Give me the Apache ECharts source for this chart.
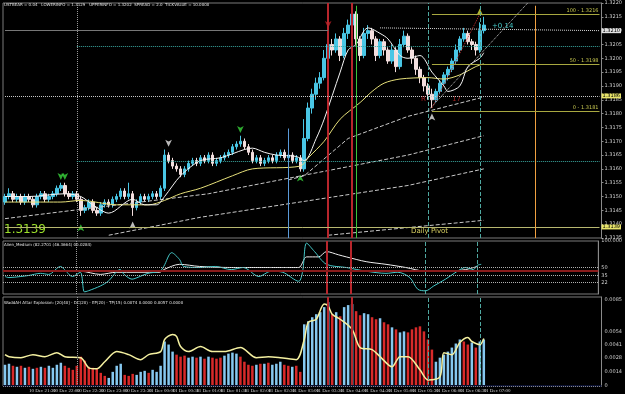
<!DOCTYPE html>
<html>
<head>
<meta charset="utf-8">
<script src="https://cdn.jsdelivr.net/npm/echarts@6/dist/echarts.min.js"></script>
<style>
  html, body { margin: 0; padding: 0; background: #000; }
  #chart { width: 625px; height: 394px; }
</style>
</head>
<body>
<div id="chart"></div>
<script>
// slots on the time axis (bars + empty space on the right)
var slotCount = 150
var timeLabels = ['10 Dec 2009', '10 Dec 21:30', '10 Dec 22:00', '10 Dec 22:30', '10 Dec 23:00', '10 Dec 23:30',
  '11 Dec 00:00', '11 Dec 00:30', '11 Dec 01:00', '11 Dec 01:30', '11 Dec 02:00', '11 Dec 02:30',
  '11 Dec 03:00', '11 Dec 03:30', '11 Dec 04:00', '11 Dec 04:30', '11 Dec 05:00', '11 Dec 05:30',
  '11 Dec 06:00', '11 Dec 06:30', '11 Dec 07:00']

// [open, close, low, high]
var candles = [
  [1.3148, 1.3150, 1.3147, 1.3151], [1.3150, 1.3151, 1.3149, 1.3153], [1.3151, 1.3149, 1.3148, 1.3152], [1.3149, 1.3150, 1.3148, 1.3151],
  [1.3150, 1.3148, 1.3147, 1.3151], [1.3148, 1.3150, 1.3147, 1.3151], [1.3150, 1.3149, 1.3148, 1.3151], [1.3149, 1.3147, 1.3146, 1.3150],
  [1.3147, 1.3150, 1.3146, 1.3151], [1.3150, 1.3151, 1.3149, 1.3152], [1.3151, 1.3149, 1.3148, 1.3152], [1.3149, 1.3150, 1.3148, 1.3151],
  [1.3150, 1.3151, 1.3149, 1.3152], [1.3151, 1.3153, 1.3150, 1.3154], [1.3153, 1.3154, 1.3152, 1.3155], [1.3154, 1.3151, 1.3150, 1.3155],
  [1.3151, 1.3150, 1.3149, 1.3152], [1.3150, 1.3151, 1.3149, 1.3152], [1.3151, 1.3149, 1.3148, 1.3152], [1.3149, 1.3145, 1.3143, 1.3150],
  [1.3145, 1.3146, 1.3144, 1.3147], [1.3146, 1.3148, 1.3145, 1.3149], [1.3148, 1.3145, 1.3144, 1.3149], [1.3145, 1.3144, 1.3143, 1.3146],
  [1.3144, 1.3147, 1.3143, 1.3148], [1.3147, 1.3148, 1.3146, 1.3149], [1.3148, 1.3147, 1.3146, 1.3149], [1.3147, 1.3149, 1.3146, 1.3150],
  [1.3149, 1.3150, 1.3148, 1.3151], [1.3150, 1.3152, 1.3149, 1.3153], [1.3152, 1.3150, 1.3149, 1.3153], [1.3150, 1.3151, 1.3149, 1.3155],
  [1.3151, 1.3146, 1.3143, 1.3152], [1.3146, 1.3148, 1.3145, 1.3149], [1.3148, 1.3150, 1.3147, 1.3151], [1.3150, 1.3149, 1.3148, 1.3151],
  [1.3149, 1.3150, 1.3148, 1.3151], [1.3150, 1.3151, 1.3149, 1.3152], [1.3151, 1.3150, 1.3149, 1.3152], [1.3150, 1.3153, 1.3149, 1.3154],
  [1.3153, 1.3165, 1.3152, 1.3167], [1.3165, 1.3163, 1.3162, 1.3166], [1.3163, 1.3161, 1.3160, 1.3164], [1.3161, 1.3160, 1.3159, 1.3162],
  [1.3160, 1.3158, 1.3157, 1.3161], [1.3158, 1.3160, 1.3157, 1.3161], [1.3160, 1.3162, 1.3159, 1.3163], [1.3162, 1.3163, 1.3161, 1.3164],
  [1.3163, 1.3162, 1.3161, 1.3164], [1.3162, 1.3164, 1.3161, 1.3165], [1.3164, 1.3163, 1.3162, 1.3165], [1.3163, 1.3165, 1.3162, 1.3166],
  [1.3165, 1.3162, 1.3161, 1.3166], [1.3162, 1.3163, 1.3161, 1.3164], [1.3163, 1.3164, 1.3162, 1.3165], [1.3164, 1.3165, 1.3163, 1.3166],
  [1.3165, 1.3166, 1.3164, 1.3167], [1.3166, 1.3168, 1.3165, 1.3169], [1.3168, 1.3169, 1.3167, 1.3170], [1.3169, 1.3170, 1.3168, 1.3172],
  [1.3170, 1.3168, 1.3167, 1.3171], [1.3168, 1.3166, 1.3165, 1.3169], [1.3166, 1.3163, 1.3162, 1.3167], [1.3163, 1.3164, 1.3162, 1.3165],
  [1.3164, 1.3162, 1.3161, 1.3165], [1.3162, 1.3163, 1.3161, 1.3164], [1.3163, 1.3164, 1.3162, 1.3165], [1.3164, 1.3163, 1.3162, 1.3165],
  [1.3163, 1.3165, 1.3162, 1.3166], [1.3165, 1.3166, 1.3164, 1.3167], [1.3166, 1.3164, 1.3163, 1.3167], [1.3164, 1.3165, 1.3163, 1.3166],
  [1.3165, 1.3163, 1.3162, 1.3166], [1.3163, 1.3164, 1.3162, 1.3165], [1.3164, 1.3160, 1.3159, 1.3165], [1.3160, 1.3171, 1.3159, 1.3178],
  [1.3171, 1.3182, 1.3170, 1.3184], [1.3182, 1.3187, 1.3180, 1.3189], [1.3187, 1.3191, 1.3185, 1.3193], [1.3191, 1.3193, 1.3189, 1.3195],
  [1.3193, 1.3200, 1.3192, 1.3203], [1.3200, 1.3205, 1.3198, 1.3208], [1.3205, 1.3203, 1.3201, 1.3207], [1.3203, 1.3207, 1.3202, 1.3209],
  [1.3207, 1.3201, 1.3199, 1.3208], [1.3201, 1.3209, 1.3200, 1.3211], [1.3209, 1.3212, 1.3207, 1.3214], [1.3212, 1.3216, 1.3210, 1.3219],
  [1.3216, 1.3207, 1.3205, 1.3217], [1.3207, 1.3201, 1.3199, 1.3208], [1.3201, 1.3209, 1.3200, 1.3211], [1.3209, 1.3210, 1.3207, 1.3212],
  [1.3210, 1.3207, 1.3205, 1.3211], [1.3207, 1.3201, 1.3199, 1.3208], [1.3201, 1.3206, 1.3200, 1.3207], [1.3206, 1.3203, 1.3201, 1.3207],
  [1.3203, 1.3199, 1.3198, 1.3204], [1.3199, 1.3203, 1.3198, 1.3205], [1.3203, 1.3197, 1.3195, 1.3204], [1.3197, 1.3205, 1.3196, 1.3207],
  [1.3205, 1.3208, 1.3204, 1.3210], [1.3208, 1.3203, 1.3202, 1.3209], [1.3203, 1.3200, 1.3198, 1.3204], [1.3200, 1.3196, 1.3194, 1.3201],
  [1.3196, 1.3193, 1.3191, 1.3197], [1.3193, 1.3190, 1.3188, 1.3194], [1.3190, 1.3187, 1.3185, 1.3191], [1.3187, 1.3185, 1.3182, 1.3189],
  [1.3185, 1.3188, 1.3184, 1.3189], [1.3188, 1.3191, 1.3187, 1.3192], [1.3191, 1.3194, 1.3190, 1.3195], [1.3194, 1.3196, 1.3192, 1.3197],
  [1.3196, 1.3199, 1.3195, 1.3200], [1.3199, 1.3203, 1.3198, 1.3205], [1.3203, 1.3207, 1.3202, 1.3208], [1.3207, 1.3209, 1.3206, 1.3211],
  [1.3209, 1.3206, 1.3205, 1.3210], [1.3206, 1.3205, 1.3203, 1.3207], [1.3205, 1.3203, 1.3201, 1.3206], [1.3203, 1.3210, 1.3202, 1.3213],
  [1.3210, 1.3212, 1.3209, 1.3215]
]

// moving averages / envelopes read as [bar, price]
var fastMa = [[0, 1.3150], [6, 1.3150], [15, 1.3151], [19, 1.3150], [22, 1.3147], [26, 1.3144], [32, 1.3149], [35, 1.3147],
  [38, 1.3147], [40, 1.3150], [44, 1.31575], [49, 1.3163], [54, 1.3164], [60, 1.3167], [62, 1.31675], [65, 1.3166],
  [68, 1.3165], [73, 1.31645], [75, 1.3163], [78, 1.3171], [80, 1.3178], [84, 1.3195], [86, 1.3203], [88, 1.3205],
  [90, 1.3210], [91, 1.3211], [94, 1.3209], [96, 1.3207], [99, 1.3201], [101, 1.3200], [104, 1.3201], [107, 1.3195],
  [110, 1.3190], [111, 1.3188], [114, 1.3190], [116, 1.3197], [119, 1.3200], [120, 1.3202]]
var slowMa = [[0, 1.3148], [14, 1.3148], [19, 1.31486], [28, 1.3147], [36, 1.3147], [40, 1.31486], [44, 1.3151],
  [49, 1.3153], [57, 1.31575], [62, 1.3160], [74, 1.3161], [76, 1.3164], [80, 1.3170], [84, 1.3178], [89, 1.3184],
  [92, 1.3188], [95, 1.3191], [99, 1.31925], [106, 1.3193], [110, 1.31925], [114, 1.3194], [118, 1.3197], [120, 1.3198]]
var bandA = [[0, 1.3142], [51, 1.3151], [101, 1.3165], [120, 1.3172]]
var bandB = [[71, 1.3156], [75, 1.31575], [86, 1.3171], [101, 1.3179], [120, 1.3186]]
var bandC = [[26, 1.3136], [49, 1.31425], [101, 1.3154], [120, 1.3160]]
var bandD = [[81, 1.3136], [120, 1.31414]]

// oscillator panel [bar, value]
var oscCyan = [[0, 33], [1, 31], [4, 33], [6, 35], [9, 39], [11, 37], [14, 52], [15, 46], [17, 33], [19, 41], [20, 4],
  [21, 6], [24, 15], [26, 24], [29, 46], [30, 37], [32, 28], [34, 33], [36, 39], [39, 43], [40, 52], [42, 78], [44, 65],
  [45, 52], [49, 50], [53, 52], [57, 46], [60, 50], [64, 33], [67, 43], [70, 41], [74, 24], [75, 43], [76, 96], [78, 80],
  [81, 56], [86, 50], [91, 43], [96, 39], [99, 41], [102, 31], [104, 9], [106, 6], [108, 15], [111, 28], [114, 43],
  [116, 50], [118, 46], [119, 54], [120, 56]]
var oscWhite = [[0, 43], [9, 43], [19, 43], [24, 37], [28, 41], [39, 41], [40, 46], [44, 56], [49, 52], [57, 50], [70, 50],
  [74, 50], [76, 70], [79, 70], [81, 80], [84, 74], [86, 70], [91, 61], [96, 56], [101, 50], [106, 43], [111, 43], [116, 46],
  [119, 52]]
var oscLevels = [50, 35, 22]
var oscSignal = 44

// histogram panel
var histValues = [0.0021, 0.0022, 0.0020, 0.0019, 0.0020, 0.0018, 0.0019, 0.0017, 0.0018, 0.0019,
  0.0018, 0.0020, 0.0018, 0.0021, 0.0023, 0.0020, 0.0018, 0.0016, 0.0020, 0.0029,
  0.0025, 0.0019, 0.0018, 0.0017, 0.0013, 0.0010, 0.0008, 0.0014, 0.0020, 0.0022,
  0.0011, 0.0010, 0.0012, 0.0011, 0.0014, 0.0015, 0.0013, 0.0016, 0.0014, 0.0020,
  0.0044, 0.0041, 0.0034, 0.0031, 0.0029, 0.0030, 0.0028, 0.0029, 0.0028, 0.0029,
  0.0027, 0.0029, 0.0028, 0.0027, 0.0028, 0.0030, 0.0032, 0.0033, 0.0032, 0.0029,
  0.0024, 0.0021, 0.0020, 0.0021, 0.0022, 0.0022, 0.0023, 0.0021, 0.0022, 0.0024,
  0.0021, 0.0020, 0.0019, 0.0020, 0.0014, 0.0061, 0.0064, 0.0068, 0.0071, 0.0073,
  0.0078, 0.0083, 0.0071, 0.0073, 0.0069, 0.0078, 0.0080, 0.0081, 0.0074, 0.0070,
  0.0072, 0.0071, 0.0068, 0.0066, 0.0067, 0.0063, 0.0061, 0.0058, 0.0056, 0.0053,
  0.0054, 0.0053, 0.0056, 0.0058, 0.0059, 0.0054, 0.0046, 0.0036, 0.0024, 0.0028,
  0.0031, 0.0034, 0.0038, 0.0042, 0.0046, 0.0044, 0.0041, 0.0043, 0.0038, 0.0044,
  0.0046]
// 1 = up (blue), -1 = down (red)
var histDir = [1, 1, -1, 1, -1, 1, -1, 1, -1, 1, -1, 1, 1, 1, 1, -1, -1, -1, -1, -1,
  -1, -1, -1, -1, -1, -1, 1, 1, 1, 1, -1, -1, -1, 1, 1, 1, -1, 1, 1, 1,
  1, 1, 1, -1, -1, -1, 1, 1, -1, 1, -1, 1, -1, -1, -1, 1, 1, 1, 1, -1,
  -1, -1, -1, 1, -1, 1, -1, 1, 1, 1, -1, -1, 1, -1, -1, 1, 1, 1, 1, 1,
  1, 1, -1, 1, -1, 1, 1, 1, -1, -1, 1, 1, -1, -1, 1, -1, -1, 1, -1, 1,
  1, -1, -1, -1, -1, -1, -1, -1, 1, 1, 1, 1, 1, 1, 1, -1, -1, 1, -1, 1,
  1]
var explosion = [[0, 0.0031], [1, 0.0029], [4, 0.0028], [7, 0.0031], [10, 0.0029], [13, 0.0033], [15, 0.0029],
  [19, 0.0028], [21, 0.0018], [23, 0.0017], [25, 0.0024], [28, 0.0034], [31, 0.0031], [34, 0.0026], [36, 0.0031],
  [39, 0.0034], [40, 0.0046], [42, 0.0051], [43, 0.0049], [44, 0.0039], [46, 0.0034], [49, 0.0039], [52, 0.0034],
  [55, 0.0034], [59, 0.0038], [63, 0.0028], [66, 0.0029], [69, 0.0028], [73, 0.0026], [75, 0.0046], [76, 0.0063],
  [78, 0.0066], [80, 0.0081], [81, 0.0079], [82, 0.0071], [84, 0.0066], [87, 0.0056], [89, 0.0038], [92, 0.0036],
  [94, 0.0029], [97, 0.0019], [99, 0.0029], [101, 0.0029], [104, 0.0016], [106, 0.0006], [109, 0.0009], [110, 0.0033],
  [112, 0.0031], [114, 0.0043], [116, 0.0048], [117, 0.0044], [119, 0.0041], [120, 0.0047]]
var deadZone = 0.0014
var histDotted = 0.0028

// levels
var dailyPivot = 1.3139
var midDotted = 1.31864
var fibLevels = [[100, 1.3216], [50, 1.3198], [0, 1.3181]]
var lastPrice = 1.3210
var markers = [
  { at: [14, 1.3156], color: '#39d63c', rot: 180 }, { at: [15, 1.3156], color: '#39d63c', rot: 180 },
  { at: [19, 1.3140], color: '#39d63c', rot: 0 }, { at: [59, 1.3173], color: '#39d63c', rot: 180 },
  { at: [74, 1.3158], color: '#39d63c', rot: 0 }, { at: [41, 1.3168], color: '#e8e8e8', rot: 180 },
  { at: [32, 1.3141], color: '#e8e8e8', rot: 0 }, { at: [107, 1.3180], color: '#e8e8e8', rot: 0 },
  { at: [87, 1.3221], color: '#e0303a', rot: 180 }, { at: [81, 1.3211], color: '#c02028', rot: 180 },
  { at: [119, 1.3218], color: '#d8e040', rot: 0 }
]

var cats = []
for (var i = 0; i < slotCount; i++) cats.push(String(i))

var font = 'DejaVu Sans'
var narrow = 'Liberation Sans Narrow'
function vline (idx, color, type, width) {
  return { xAxis: idx, lineStyle: { color: color, type: type, width: width || 1 } }
}
var sharedV = [
  vline(18, '#9a9a9a', 'dotted'),
  vline(106, '#4fa8a0', 'dashed'),
  vline(119, '#4fa8a0', 'dashed'),
  vline(81, '#b8262c', 'solid', 2),
  vline(87, '#b8262c', 'solid', 2)
]
function seg (a, b, color, type, label) {
  var s = [{ coord: a, lineStyle: { color: color, type: type, width: 1 } }, { coord: b }]
  if (label) s[0].label = label
  return s
}
function boxLabel (text, bg) {
  return { show: true, position: 'end', distance: 2, formatter: text, fontSize: 5, color: '#000', backgroundColor: bg, padding: [0, 1], fontFamily: font }
}

var mainMarks = sharedV.slice()
mainMarks.push(
  seg([0, midDotted], [149, midDotted], '#c8c8c8', 'dotted', boxLabel('1.3186', '#e8e46a')),
  seg([0, dailyPivot], [149, dailyPivot], '#b8b870', 'solid', boxLabel('1.3139', '#e8e46a')),
  seg([0, lastPrice], [81, lastPrice], '#777', 'solid'),
  seg([94, 1.3211], [149, 1.3210], '#d8d8d8', 'dotted', boxLabel('1.3210', '#e0e0e0')),
  seg([18, 1.32043], [149, 1.32043], '#3aa7a0', 'dotted'),
  seg([18, 1.31629], [149, 1.31629], '#3aa7a0', 'dotted'),
  seg([106, 1.3181], [131, 1.3220], '#d0d0d0', 'dotted'),
  seg([107, 1.3182], [119, 1.3216], '#c03030', 'dotted'),
  seg([88, 1.3219], [88, 1.3135], '#3cc43c', 'solid'),
  seg([71, 1.31746], [71, 1.3135], '#5a9ad8', 'solid'),
  seg([133, 1.3219], [133, 1.3135], '#f0a040', 'solid')
)
fibLevels.forEach(function (f) {
  mainMarks.push(seg([107, f[1]], [149, f[1]], '#a8a840', 'solid',
    { show: true, position: 'insideEndTop', distance: 1, formatter: f[0] + ' - ' + f[1].toFixed(4), fontSize: 5, color: '#c8c850', fontFamily: font }))
})

var oscMarks = sharedV.slice()
oscLevels.forEach(function (v) {
  oscMarks.push({ yAxis: v, lineStyle: { color: '#b0b0b0', type: 'dotted' } })
})
oscMarks.push({ yAxis: oscSignal, lineStyle: { color: '#8a1c1c', type: 'solid', width: 2 } })

var histMarks = sharedV.slice()
histMarks.push({ yAxis: deadZone, lineStyle: { color: '#0a1030', type: 'solid', width: 2 } })
histMarks.push({ yAxis: histDotted, lineStyle: { color: '#888', type: 'dotted' } })

var gridLeft = 3
var gridRight = 20
function xAxisFor (gi, show) {
  return {
    type: 'category', gridIndex: gi, data: cats, boundaryGap: true,
    axisLine: { show: false }, axisTick: { show: false }, splitLine: { show: false },
    axisLabel: {
      show: show, interval: 5, fontSize: 5, color: '#d0d0d0', fontFamily: narrow, align: 'left', margin: 2,
      formatter: function (v, idx) { return timeLabels[idx / 6] || '' }
    }
  }
}
function yAxisFor (gi, opts) {
  var base = {
    type: 'value', gridIndex: gi, position: 'right', scale: false,
    axisLine: { show: true, lineStyle: { color: '#8a8a8a' } },
    axisTick: { show: true, length: 2, lineStyle: { color: '#8a8a8a' } },
    splitLine: { show: false }
  }
  for (var k in opts) base[k] = opts[k]
  return base
}
var axisText = { fontSize: 5, color: '#cfcfcf', margin: 3, fontFamily: font }

var chart = echarts.init(document.getElementById('chart'))
chart.setOption({
  backgroundColor: '#000',
  animation: false,
  grid: [
    { left: gridLeft, right: gridRight, top: 3, height: 235, show: true, borderColor: '#7a7a7a', borderWidth: 1 },
    { left: gridLeft, right: gridRight, top: 241, height: 53, show: true, borderColor: '#7a7a7a', borderWidth: 1 },
    { left: gridLeft, right: gridRight, top: 297, height: 89, show: true, borderColor: '#7a7a7a', borderWidth: 1 }
  ],
  xAxis: [xAxisFor(0, false), xAxisFor(1, false), xAxisFor(2, true)],
  yAxis: [
    yAxisFor(0, { min: 1.3135, max: 1.3220, interval: 0.0005,
      axisLabel: Object.assign({}, axisText, { formatter: function (v) { return v.toFixed(4) } }) }),
    yAxisFor(1, { min: 0, max: 100, axisTick: { show: false },
      axisLabel: Object.assign({}, axisText, { customValues: [100, 50, 35, 22], formatter: function (v) { return v === 100 ? '100.000' : String(v) } }) }),
    yAxisFor(2, { min: 0, max: 0.0088, axisTick: { show: false },
      axisLabel: Object.assign({}, axisText, { customValues: [0.0088, 0.0085, 0.0054, 0.0041, 0.0028, 0.0014, 0], formatter: function (v) { return v === 0 ? '0' : v.toFixed(4) } }) })
  ],
  series: [
    {
      type: 'candlestick', xAxisIndex: 0, yAxisIndex: 0, data: candles, barWidth: 3,
      itemStyle: { color: '#49c6e5', color0: '#f3dede', borderColor: '#49c6e5', borderColor0: '#f3dede', borderWidth: 1 }
    },
    { type: 'line', xAxisIndex: 0, yAxisIndex: 0, data: bandA, symbol: 'none', lineStyle: { color: '#c8c8c8', type: 'dashed', width: 1 } },
    { type: 'line', xAxisIndex: 0, yAxisIndex: 0, data: bandB, symbol: 'none', lineStyle: { color: '#c8c8c8', type: 'dashed', width: 1 } },
    { type: 'line', xAxisIndex: 0, yAxisIndex: 0, data: bandC, symbol: 'none', lineStyle: { color: '#c8c8c8', type: 'dashed', width: 1 } },
    { type: 'line', xAxisIndex: 0, yAxisIndex: 0, data: bandD, symbol: 'none', lineStyle: { color: '#c8c8c8', type: 'dashed', width: 1 } },
    { type: 'line', xAxisIndex: 0, yAxisIndex: 0, data: slowMa, symbol: 'none', smooth: 0.3, lineStyle: { color: '#e6e07a', width: 1 } },
    {
      type: 'line', xAxisIndex: 0, yAxisIndex: 0, data: fastMa, symbol: 'none', smooth: 0.3, lineStyle: { color: '#f4f4f4', width: 1 },
      markLine: { silent: true, symbol: ['none', 'none'], label: { show: false }, data: mainMarks }
    },
    {
      type: 'scatter', xAxisIndex: 0, yAxisIndex: 0, symbol: 'arrow', symbolSize: [5, 7],
      data: markers.map(function (m) { return { value: m.at, symbolRotate: m.rot, itemStyle: { color: m.color } } })
    },
    {
      type: 'line', xAxisIndex: 1, yAxisIndex: 1, data: oscWhite, symbol: 'none', smooth: 0.3, lineStyle: { color: '#f0f0f0', width: 1 },
      markLine: { silent: true, symbol: ['none', 'none'], label: { show: false }, data: oscMarks }
    },
    { type: 'line', xAxisIndex: 1, yAxisIndex: 1, data: oscCyan, symbol: 'none', smooth: 0.3, lineStyle: { color: '#45c8c8', width: 1 } },
    {
      type: 'bar', xAxisIndex: 2, yAxisIndex: 2, barWidth: 2.5,
      data: histValues.map(function (v, k) { return { value: v, itemStyle: { color: histDir[k] > 0 ? '#86c8f0' : '#d82a2a' } } }),
      markLine: { silent: true, symbol: ['none', 'none'], label: { show: false }, data: histMarks }
    },
    { type: 'line', xAxisIndex: 2, yAxisIndex: 2, data: explosion, symbol: 'none', smooth: 0.3, lineStyle: { color: '#f4f0a0', width: 1.5 } }
  ],
  graphic: [
    { type: 'text', left: 4, top: 3, style: { text: 'USTBEAR = 0.04   LOWERINFO = 1.3129   UPPERINFO = 1.3202  SPREAD = 2.0  TICKVALUE = 10.0000', fill: '#e0e0e0', fontSize: 4, fontFamily: font } },
    { type: 'text', left: 4, top: 224, style: { text: '1.3139', fill: '#9be02a', fontSize: 12, fontFamily: font } },
    { type: 'text', left: 411, top: 228, style: { text: 'Daily Pivot', fill: '#d8d060', fontSize: 7, fontFamily: font } },
    { type: 'text', left: 492, top: 23, style: { text: '+0.14', fill: '#45c8c8', fontSize: 7, fontFamily: font } },
    { type: 'text', left: 421, top: 96, style: { text: 'R', fill: '#a02020', fontSize: 7, fontFamily: font } },
    { type: 'text', left: 452, top: 96, style: { text: '17', fill: '#a02020', fontSize: 7, fontFamily: font } },
    { type: 'text', left: 4, top: 243, style: { text: 'Alien_Medium (82.2701 (46.3664) 00.0284)', fill: '#e0e0e0', fontSize: 4, fontFamily: font } },
    { type: 'text', left: 4, top: 301, style: { text: 'WaddAH Attar Explosion: [20|40] - DC(20) - EP(20) - TP(15) 0.0074 0.0000 0.0057 0.0000', fill: '#e0e0e0', fontSize: 4, fontFamily: font } }
  ]
})
</script>
</body>
</html>
